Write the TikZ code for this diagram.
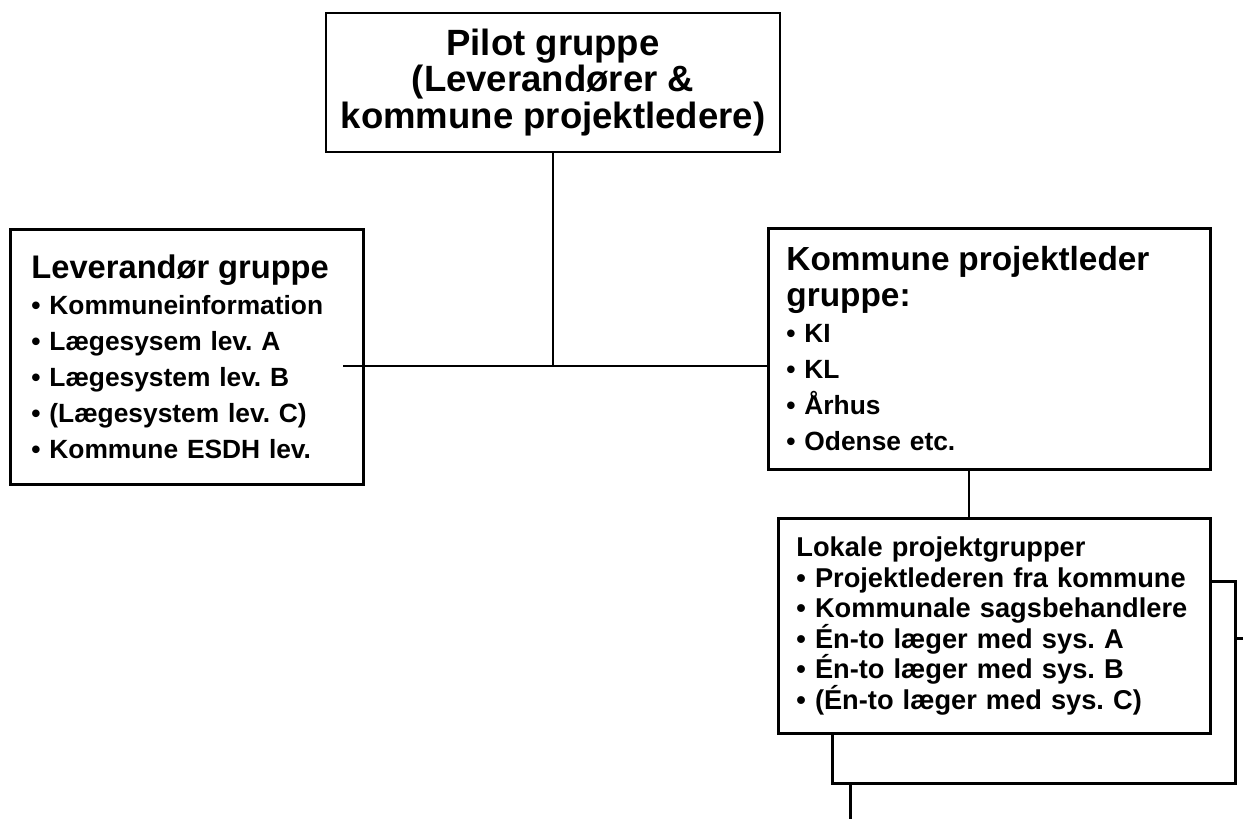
\documentclass[tikz,border=0pt]{standalone}
\usepackage{fontspec}
\setmainfont{Liberation Sans}
\frenchspacing

\tikzset{
  grp/.style={draw, line width=1.6pt, fill=white, anchor=north west, align=left, inner ysep=0pt},
  wire/.style={line width=1.6pt},
}

\begin{document}
\begin{tikzpicture}[x=0.02cm, y=-0.02cm]
\useasboundingbox (0,0) rectangle (1243,818);

\node[grp, anchor=center, align=center, minimum width=9.08cm, minimum height=2.78cm,
  font=\bfseries\fontsize{20.8}{21}\selectfont] (pilot) at (553,82.5)
  {Pilot gruppe\\(Leverandører \&\\kommune projektledere)};

\node[grp, minimum width=7.06cm, minimum height=5.1cm, inner xsep=0.42cm, text width=6.22cm,
  font=\bfseries\fontsize{15}{20.5}\selectfont] (lev) at (9,228)
  {{\fontsize{18.6}{22}\selectfont Leverandør gruppe}\\
   \textbullet\ Kommuneinformation\\
   \textbullet\ Lægesysem lev. A\\
   \textbullet\ Lægesystem lev. B\\
   \textbullet\ (Lægesystem lev. C)\\
   \textbullet\ Kommune ESDH lev.};

\node[grp, minimum width=8.84cm, minimum height=4.82cm, inner xsep=0.36cm, text width=8.12cm,
  font=\bfseries\fontsize{15}{20.5}\selectfont] (kom) at (767,227)
  {{\fontsize{19}{22.8}\selectfont Kommune projektleder\\
   gruppe:}\\
   \textbullet\ KI\\
   \textbullet\ KL\\
   \textbullet\ Århus\\
   \textbullet\ Odense etc.};

\node[grp, minimum width=10cm, minimum height=5cm] (lok3) at (849,637) {};
\node[grp, minimum width=8.06cm, minimum height=4.04cm] (lok2) at (831,580) {};

\node[grp, minimum width=8.64cm, minimum height=4.3cm, inner xsep=0.36cm, text width=7.92cm,
  font=\bfseries\fontsize{15.5}{17.4}\selectfont] (lok) at (777,517)
  {Lokale projektgrupper\\
   \textbullet\ Projektlederen fra kommune\\
   \textbullet\ Kommunale sagsbehandlere\\
   \textbullet\ Én-to læger med sys. A\\
   \textbullet\ Én-to læger med sys. B\\
   \textbullet\ (Én-to læger med sys. C)};

\coordinate (hub) at (555,366);
\coordinate (levtap) at (343,366);
\coordinate (komtap) at (969,0);

\draw[wire] (pilot) -- (pilot |- hub);
\draw[wire] (levtap) -- (kom.west |- levtap);
\draw[wire] (kom.south -| komtap) -- (lok.north -| komtap);
\end{tikzpicture}
\end{document}
